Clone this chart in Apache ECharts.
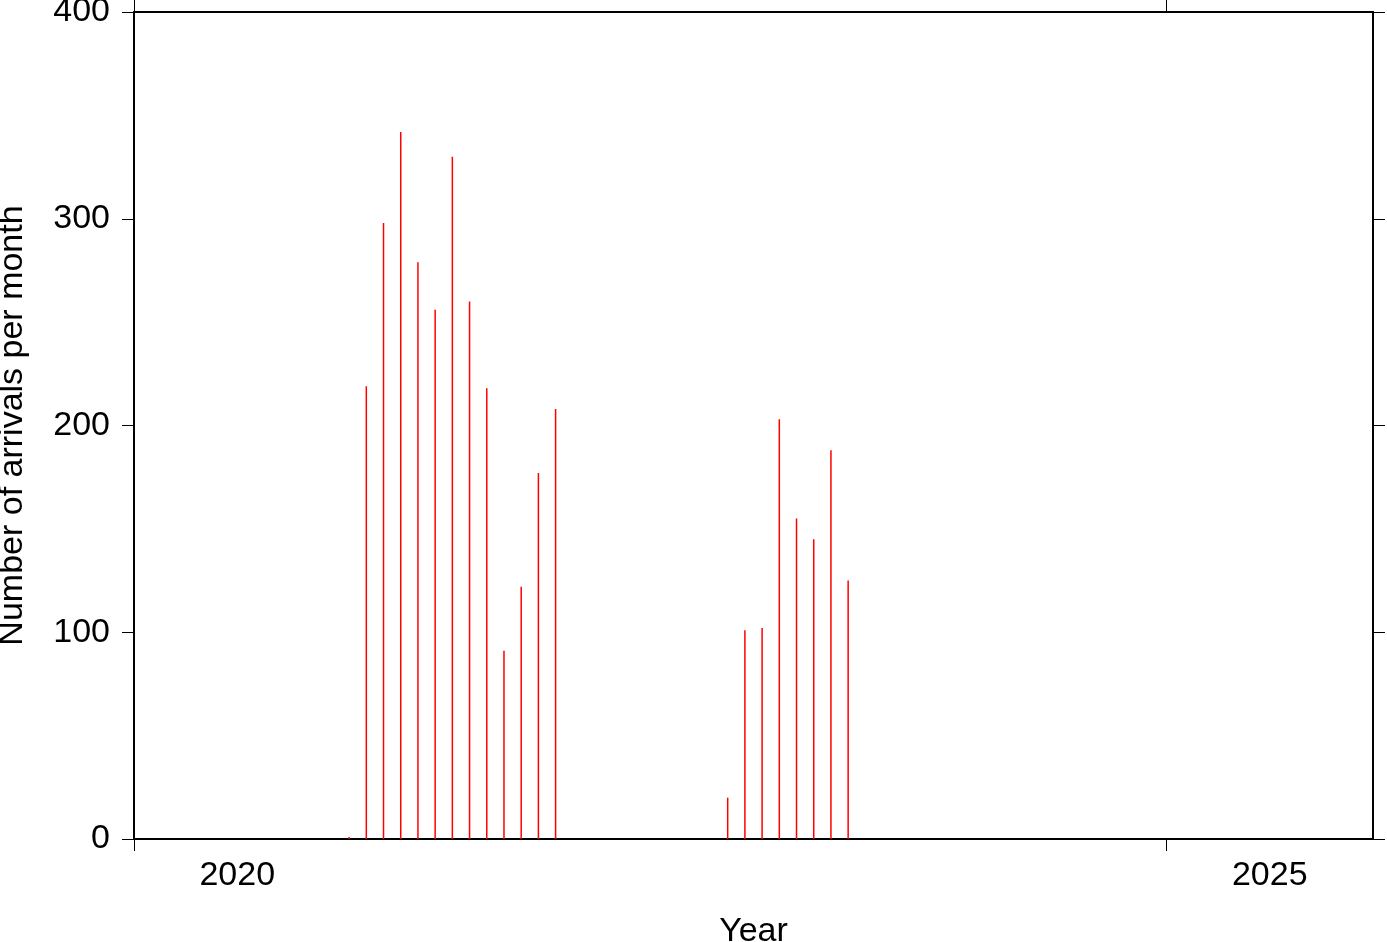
<!DOCTYPE html>
<html>
<head>
<meta charset="utf-8">
<script src="https://cdn.jsdelivr.net/npm/echarts@6/dist/echarts.min.js"></script>
<style>html,body{margin:0;padding:0;background:#fff}#c{width:1387px;height:942px}</style>
</head>
<body>
<div id="c"></div>
<script>
// Months (YYYY-MM) and number of arrivals per month
const months = ['2021-01','2021-02','2021-03','2021-04','2021-05','2021-06','2021-07','2021-08','2021-09','2021-10','2021-11','2021-12','2022-01',
                '2022-11','2022-12','2023-01','2023-02','2023-03','2023-04','2023-05','2023-06'];
const arrivals = [1,219,298,342,279,256,330,260,218,91,122,177,208,
                  20,101,102,203,155,145,188,125];
const yTicks = [0,100,200,300,400];
const yearTicks = [2020, 2025];
const yearLabels = ['2020','2025'];

const FONT = 'Liberation Sans, Arial, Helvetica, sans-serif';
const FS = 34;
// mid-month position in decimal years
const data = months.map((m, i) => {
  const [y, mo] = m.split('-').map(Number);
  return [y + (mo - 0.5) / 12, arrivals[i]];
});

const chart = echarts.init(document.getElementById('c'), null, {renderer: 'canvas'});
chart.setOption({
  animation: false,
  backgroundColor: '#fff',
  grid: {left: 134, right: 14, top: 12, bottom: 103, show: false, containLabel: false, outerBoundsMode: 'none'},
  xAxis: [
    {
      type: 'value', min: 2020, max: 2026, interval: 5, position: 'bottom',
      axisLine: {show: true, onZero: false, lineStyle: {color: '#000', width: 2}},
      axisTick: {show: true, inside: false, length: 12, customValues: yearTicks, lineStyle: {color: '#000', width: 1}},
      axisLabel: {
        show: true, margin: 20, fontFamily: FONT, fontSize: FS, color: '#000',
        customValues: yearTicks.map(v => v + 0.5),
        formatter: v => yearLabels[yearTicks.indexOf(Math.round(v - 0.5))]
      },
      splitLine: {show: false},
      name: 'Year', nameLocation: 'middle', nameGap: 76,
      nameTextStyle: {fontFamily: FONT, fontSize: FS, color: '#000'}
    },
    {
      type: 'value', min: 2020, max: 2026, interval: 5, position: 'top',
      axisLine: {show: true, onZero: false, lineStyle: {color: '#000', width: 2}},
      axisTick: {show: true, inside: false, length: 12, customValues: yearTicks, lineStyle: {color: '#000', width: 1}},
      axisLabel: {show: false}, splitLine: {show: false}
    }
  ],
  yAxis: [
    {
      type: 'value', min: yTicks[0], max: yTicks[yTicks.length - 1], interval: 100, position: 'left',
      axisLine: {show: true, onZero: false, lineStyle: {color: '#000', width: 2}},
      axisTick: {show: true, inside: false, length: 12, lineStyle: {color: '#000', width: 1}},
      axisLabel: {margin: 24, fontFamily: FONT, fontSize: FS, color: '#000'},
      splitLine: {show: false},
      name: 'Number of arrivals per month', nameLocation: 'middle', nameGap: 104,
      nameTextStyle: {fontFamily: FONT, fontSize: FS, color: '#000'}
    },
    {
      type: 'value', min: 0, max: 400, interval: 100, position: 'right',
      axisLine: {show: true, onZero: false, lineStyle: {color: '#000', width: 2}},
      axisTick: {show: true, inside: false, length: 12, lineStyle: {color: '#000', width: 1}},
      axisLabel: {show: false}, splitLine: {show: false}
    }
  ],
  series: [{
    type: 'bar', xAxisIndex: 0, yAxisIndex: 0,
    data: data, barWidth: 1.5,
    itemStyle: {color: '#ff0000'}
  }]
});
</script>
</body>
</html>
